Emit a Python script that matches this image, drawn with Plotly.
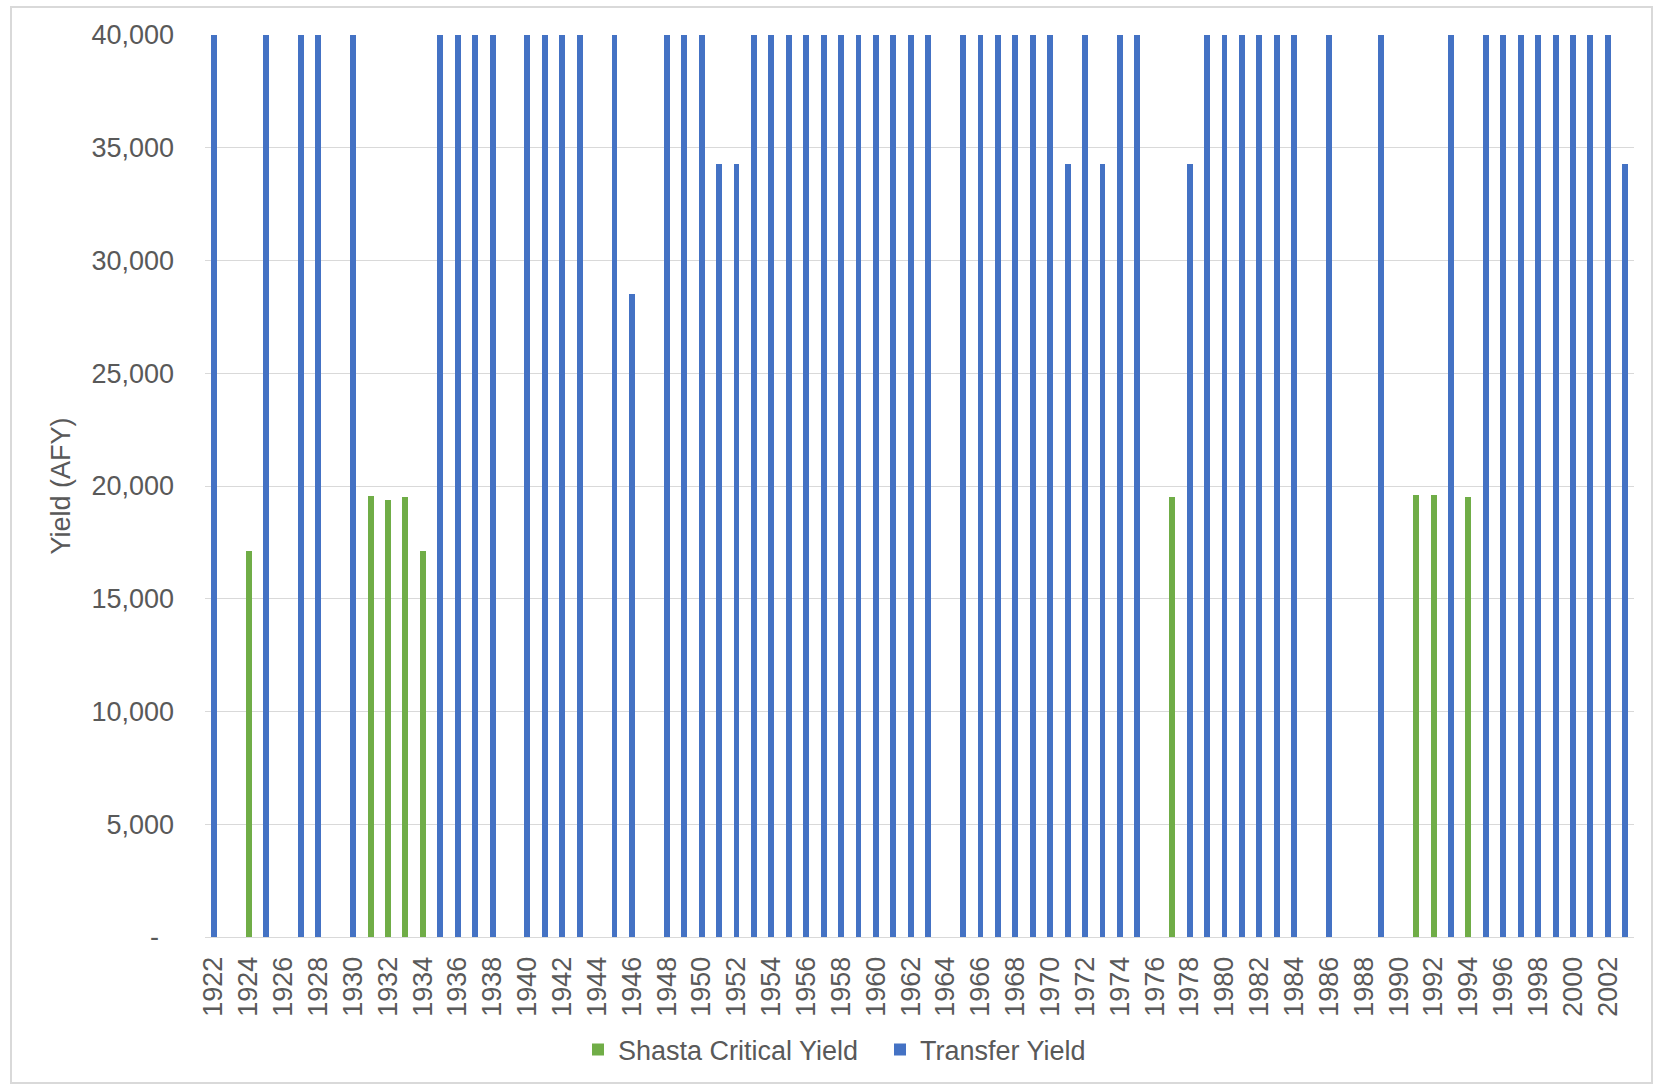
import plotly.graph_objects as go

years = list(range(1922, 2004))

transfer_yield = [
    40000, 0, 0, 40000, 0, 40000, 40000, 0, 40000, 0,          # 1922-1931
    0, 0, 0, 40000, 40000, 40000, 40000, 0, 40000, 40000,      # 1932-1941
    40000, 40000, 0, 40000, 28500, 0, 40000, 40000, 40000, 34300,  # 1942-1951
    34300, 40000, 40000, 40000, 40000, 40000, 40000, 40000, 40000, 40000,  # 1952-1961
    40000, 40000, 0, 40000, 40000, 40000, 40000, 40000, 40000, 34300,  # 1962-1971
    40000, 34300, 40000, 40000, 0, 0, 34300, 40000, 40000, 40000,  # 1972-1981
    40000, 40000, 40000, 0, 40000, 0, 0, 40000, 0, 0,          # 1982-1991
    0, 40000, 0, 40000, 40000, 40000, 40000, 40000, 40000, 40000,  # 1992-2001
    40000, 34300,                                              # 2002-2003
]

shasta_critical_yield = [
    0, 0, 17100, 0, 0, 0, 0, 0, 0, 19550,                      # 1922-1931
    19400, 19500, 17100, 0, 0, 0, 0, 0, 0, 0,                  # 1932-1941
    0, 0, 0, 0, 0, 0, 0, 0, 0, 0,                              # 1942-1951
    0, 0, 0, 0, 0, 0, 0, 0, 0, 0,                              # 1952-1961
    0, 0, 0, 0, 0, 0, 0, 0, 0, 0,                              # 1962-1971
    0, 0, 0, 0, 0, 19500, 0, 0, 0, 0,                          # 1972-1981
    0, 0, 0, 0, 0, 0, 0, 0, 0, 19600,                          # 1982-1991
    19600, 0, 19500, 0, 0, 0, 0, 0, 0, 0,                      # 1992-2001
    0, 0,                                                      # 2002-2003
]

x_tick_years = list(range(1922, 2003, 2))
x_tick_labels = [str(y) for y in x_tick_years]
y_tick_vals = [0, 5000, 10000, 15000, 20000, 25000, 30000, 35000, 40000]
y_tick_labels = ["-\u00a0\u00a0", "5,000", "10,000", "15,000", "20,000",
                 "25,000", "30,000", "35,000", "40,000"]

GREEN = "#70AD47"
BLUE = "#4472C4"
TEXT = "#595959"
FONT = "Liberation Sans, Arial, sans-serif"

fig = go.Figure()
fig.add_trace(go.Bar(x=years, y=shasta_critical_yield, name="Shasta Critical Yield",
                     marker=dict(color=GREEN, line=dict(width=0)), width=0.34))
fig.add_trace(go.Bar(x=years, y=transfer_yield, name="Transfer Yield",
                     marker=dict(color=BLUE, line=dict(width=0)), width=0.34))

W, H = 1658, 1087
L, R, T, B = 205, 24, 35, 150
pw = W - L - R
ph = H - T - B

fig.update_layout(
    width=W, height=H,
    barmode="overlay",
    bargap=0,
    paper_bgcolor="white",
    plot_bgcolor="white",
    margin=dict(l=L, r=R, t=T, b=B),
    font=dict(family=FONT, size=27, color=TEXT),
    showlegend=True,
    legend=dict(orientation="h", x=(880 - L) / pw, xanchor="center",
                y=(H - B - 1050) / ph, yanchor="middle",
                font=dict(size=27, color=TEXT),
                itemwidth=30, entrywidth=257, entrywidthmode="pixels",
                tracegroupgap=0, bgcolor="rgba(0,0,0,0)"),
    xaxis=dict(
        range=[1921.5, 2003.5],
        tickmode="array", tickvals=x_tick_years, ticktext=x_tick_labels,
        tickangle=-90, showgrid=False, zeroline=False,
        showline=True, linecolor="#D9D9D9", linewidth=1,
        ticks="", ticklabelstandoff=8,
        tickfont=dict(size=27, color=TEXT),
    ),
    yaxis=dict(
        range=[0, 40000],
        tickmode="array", tickvals=y_tick_vals, ticktext=y_tick_labels,
        showgrid=True, gridcolor="#D9D9D9", gridwidth=1,
        zeroline=False, showline=False, ticks="",
        ticklabelstandoff=30,
        tickfont=dict(size=27, color=TEXT),
        title=dict(text="Yield (AFY)", font=dict(size=27, color=TEXT), standoff=12),
    ),
)

# outer chart border (light gray frame)
fig.add_shape(type="rect", xref="paper", yref="paper",
              x0=(11 - L) / pw, x1=(1652 - L) / pw,
              y0=(H - B - 1083) / ph, y1=(H - B - 7) / ph,
              line=dict(color="#D9D9D9", width=2), fillcolor="rgba(0,0,0,0)",
              layer="below")

# remove the default 8px page margin so the figure fills the window exactly
fig.write_html("out.html",
               config={"displayModeBar": False},
               post_script="document.body.style.margin='0';document.body.style.overflow='hidden';")
